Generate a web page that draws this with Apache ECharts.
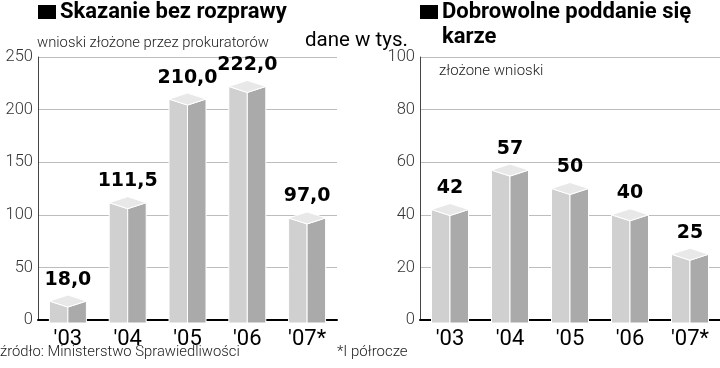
<!DOCTYPE html>
<html>
<head>
<meta charset="utf-8">
<script src="https://cdn.jsdelivr.net/npm/echarts@6/dist/echarts.min.js"></script>
<style>html,body{margin:0;padding:0;background:#fff}#c{width:720px;height:368px}</style>
</head>
<body>
<div id="c"></div>
<script>
const categories = ["'03", "'04", "'05", "'06", "'07*"];
const valuesLeft = [18.0, 111.5, 210.0, 222.0, 97.0];
const valuesRight = [42, 57, 50, 40, 25];
const leftTicks = { min: 0, max: 250, interval: 50 };
const rightTicks = { min: 0, max: 100, interval: 20 };

const fmtLeft = v => v.toFixed(1).replace('.', ',');
const fmtRight = v => String(v);

function makeRender(fmt) {
  return function (params, api) {
    const v = api.value(1);
    const top = api.coord([api.value(0), v]);
    const base = api.coord([api.value(0), 0]);
    const w = 18.5, d = 6;
    const cx = top[0], vy = top[1], by = base[1] + 3;
    return {
      type: 'group',
      children: [
        { type: 'polygon', shape: { points: [[cx - w, vy], [cx, vy + d], [cx, by], [cx - w, by]] },
          style: { fill: '#d0d0d0', stroke: '#fff', lineWidth: 1 } },
        { type: 'polygon', shape: { points: [[cx, vy + d], [cx + w, vy], [cx + w, by], [cx, by]] },
          style: { fill: '#aaaaaa', stroke: '#fff', lineWidth: 1 } },
        { type: 'polygon', shape: { points: [[cx - w, vy], [cx, vy - d], [cx + w, vy], [cx, vy + d]] },
          style: { fill: '#e8e8e8', stroke: '#fff', lineWidth: 1 } },
        { type: 'text', style: { text: fmt(v), x: cx, y: vy - d - 6, align: 'center', verticalAlign: 'bottom',
          font: 'bold 19px "DejaVu Sans", sans-serif', fill: '#000' } }
      ]
    };
  };
}

const xAxisCommon = {
  type: 'category',
  data: categories,
  axisTick: { show: false },
  axisLine: { lineStyle: { color: '#000', width: 2 } },
  axisLabel: { color: '#000', fontSize: 22, fontFamily: 'Roboto, sans-serif', margin: 8, interval: 0 }
};
const yAxisCommon = {
  type: 'value',
  axisLine: { show: true, lineStyle: { color: '#444', width: 1 } },
  axisTick: { show: false },
  splitLine: { lineStyle: { color: '#bdbdbd', width: 1 } },
  axisLabel: { color: '#333', fontSize: 16.5, fontFamily: 'Roboto, sans-serif', fontWeight: 300, margin: 5 }
};

const chart = echarts.init(document.getElementById('c'));
chart.setOption({
  animation: false,
  grid: [
    { left: 38, right: 383, top: 57, bottom: 48 },
    { left: 420, right: 0, top: 57, bottom: 48 }
  ],
  xAxis: [
    Object.assign({ gridIndex: 0 }, xAxisCommon),
    Object.assign({ gridIndex: 1 }, xAxisCommon)
  ],
  yAxis: [
    Object.assign({ gridIndex: 0 }, yAxisCommon, leftTicks),
    Object.assign({ gridIndex: 1 }, yAxisCommon, rightTicks)
  ],
  series: [
    { type: 'custom', xAxisIndex: 0, yAxisIndex: 0, renderItem: makeRender(fmtLeft),
      data: valuesLeft.map((v, i) => [i, v]), encode: { x: 0, y: 1 }, clip: false },
    { type: 'custom', xAxisIndex: 1, yAxisIndex: 1, renderItem: makeRender(fmtRight),
      data: valuesRight.map((v, i) => [i, v]), encode: { x: 0, y: 1 }, clip: false }
  ],
  graphic: [
    { type: 'rect', shape: { x: 38, y: 5, width: 18, height: 14 }, style: { fill: '#000' } },
    { type: 'text', x: 60, y: 12, style: { text: 'Skazanie bez rozprawy', font: 'bold 22px Roboto, sans-serif', fill: '#000', verticalAlign: 'middle' } },
    { type: 'text', x: 37, y: 43, style: { text: 'wnioski złożone przez prokuratorów', font: '300 14.8px Roboto, sans-serif', fill: '#222', verticalAlign: 'middle' } },
    { type: 'text', x: 305, y: 41, style: { text: 'dane w tys.', font: '20.5px Roboto, sans-serif', fill: '#000', verticalAlign: 'middle' } },
    { type: 'rect', shape: { x: 420, y: 5, width: 18, height: 14 }, style: { fill: '#000' } },
    { type: 'text', x: 442, y: 12, style: { text: 'Dobrowolne poddanie się', font: 'bold 22px Roboto, sans-serif', fill: '#000', verticalAlign: 'middle' } },
    { type: 'text', x: 442, y: 37, style: { text: 'karze', font: 'bold 22px Roboto, sans-serif', fill: '#000', verticalAlign: 'middle' } },
    { type: 'text', x: 439, y: 71, style: { text: 'złożone wnioski', font: '300 15px Roboto, sans-serif', fill: '#222', verticalAlign: 'middle' } },
    { type: 'text', x: 0, y: 352, style: { text: 'źródło: Ministerstwo Sprawiedliwości', font: '300 14.8px Roboto, sans-serif', fill: '#222', verticalAlign: 'middle' } },
    { type: 'text', x: 337, y: 352, style: { text: '*I półrocze', font: '300 15px Roboto, sans-serif', fill: '#222', verticalAlign: 'middle' } }
  ]
});
</script>
</body>
</html>
